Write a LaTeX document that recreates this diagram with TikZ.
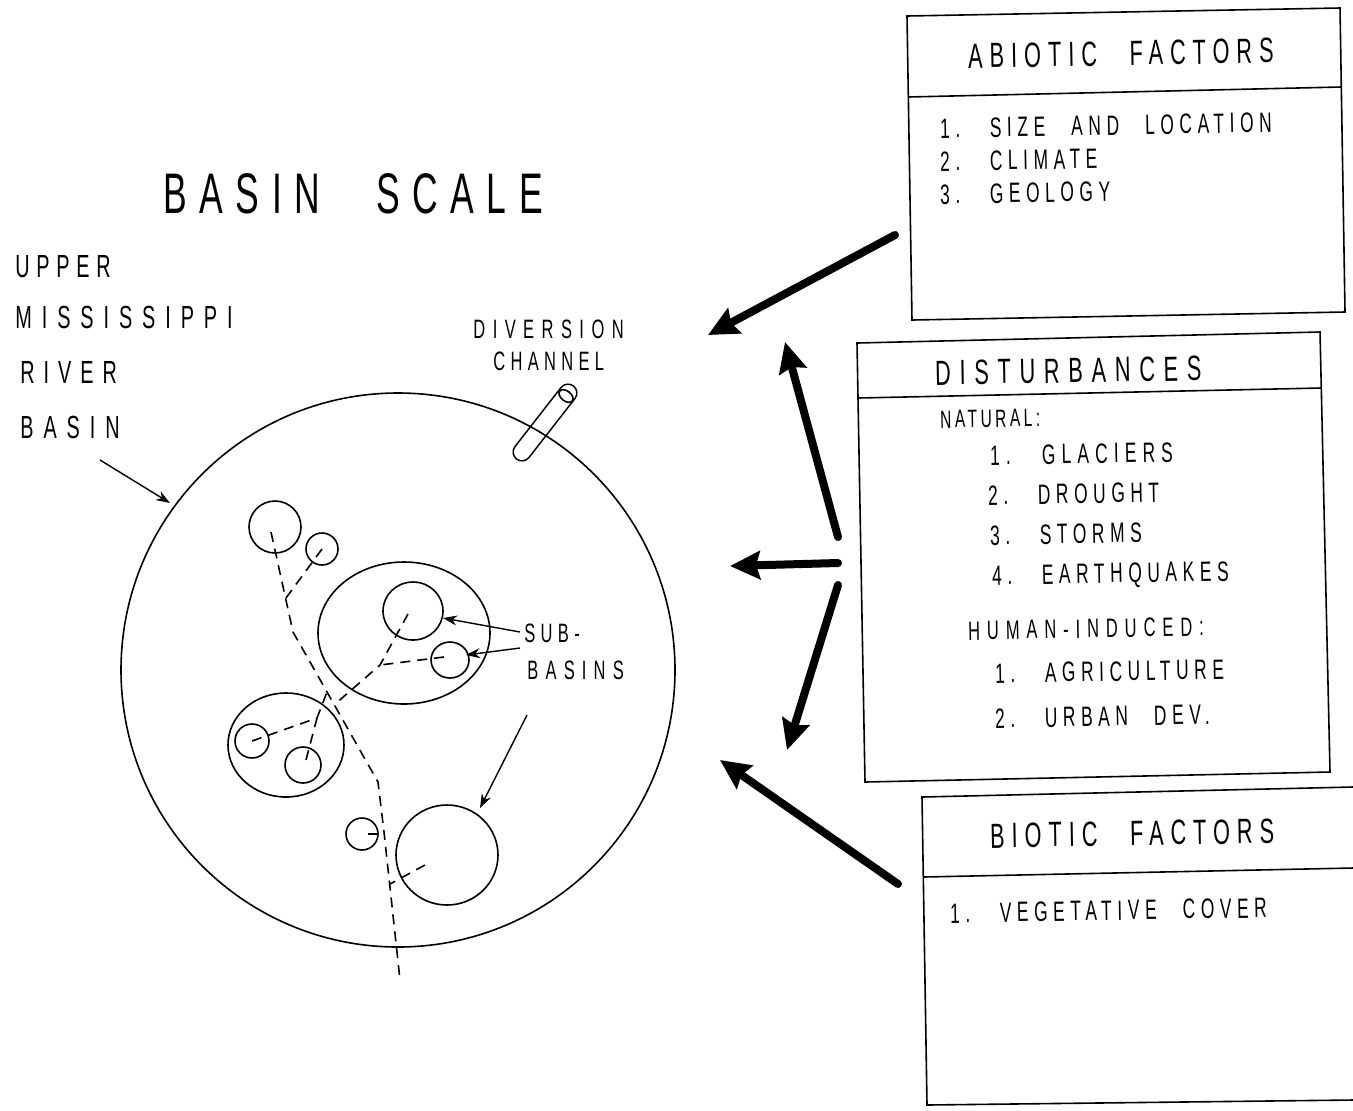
\documentclass[tikz,border=0pt]{standalone}
\usepackage{fontspec}
\setmainfont{Liberation Sans}
\newfontfamily\plotfont[FakeStretch=0.62,LetterSpace=20,WordSpace=2.5]{Liberation Sans}
\newcommand{\ls}[1]{\addfontfeatures{LetterSpace=#1}}
\usetikzlibrary{arrows.meta}
\begin{document}
\begin{tikzpicture}[x=0.5pt,y=-0.5pt,
  thinln/.style={line width=0.8pt},
  boxln/.style={line width=0.8pt},
  dashln/.style={line width=0.8pt,dash pattern=on 5pt off 3.5pt},
  thinarrow/.style={line width=0.7pt,-{Stealth[length=7pt,width=5pt]}},
  bigarrow/.style={line width=4pt,line cap=round,-{Stealth[length=15pt,width=14pt,inset=2pt]}},
  lbl/.style={inner sep=0pt,anchor=base west,font=\plotfont},
  boxtxt/.style={lbl,rotate=1}]
\useasboundingbox (0,0) rectangle (1353,1110);

% ---- titles and labels ----
\node[lbl,font=\plotfont\ls{22}\fontsize{28.6}{30}\selectfont] (title) at (163,213) {BASIN SCALE};
\node[lbl,font=\plotfont\ls{21}\fontsize{16}{18}\selectfont] (upper) at (15,277) {UPPER};
\node[lbl,font=\plotfont\ls{31}\fontsize{16}{18}\selectfont] (miss) at (15,328) {MISSISSIPPI};
\node[lbl,font=\plotfont\ls{28}\fontsize{16}{18}\selectfont] (river) at (20,383) {RIVER};
\node[lbl,font=\plotfont\ls{31}\fontsize{16}{18}\selectfont] (basin) at (20,438) {BASIN};
\node[lbl,font=\plotfont\ls{28}\fontsize{13.3}{15}\selectfont] (div) at (473,338) {DIVERSION};
\node[lbl,font=\plotfont\fontsize{13.3}{15}\selectfont] (chan) at (493,370) {CHANNEL};
\node[lbl,font=\plotfont\fontsize{13.3}{15}\selectfont] (sub) at (524,642) {SUB-};
\node[lbl,font=\plotfont\ls{27}\fontsize{13.3}{15}\selectfont] (basins) at (527,679) {BASINS};

% ---- diversion channel ----
\coordinate (p1) at (522,452);
\coordinate (p2) at (568,393);
\draw[line width=0.8pt,double distance=8pt,line cap=round] (p1) -- (p2);
\coordinate (hole) at (566,396);
\draw[thinln,rotate around={52:(hole)}] (hole) ellipse [x radius=5, y radius=8];

% ---- basin circle ----
\coordinate (basinc) at (398,670);
\draw[thinln] (basinc) circle [radius=277];

% ---- sub-basins ----
\coordinate (cA) at (275,527);
\coordinate (cB) at (322,549);
\coordinate (cC) at (404,633);
\coordinate (cD) at (413,611);
\coordinate (cE) at (450,660);
\coordinate (cF) at (286,745);
\coordinate (cG) at (252,741);
\coordinate (cH) at (303,765);
\coordinate (cI) at (362,834);
\coordinate (cJ) at (447,855);
\draw[thinln] (cA) ellipse [x radius=26, y radius=26];
\draw[thinln] (cB) ellipse [x radius=16, y radius=16];
\draw[thinln] (cC) ellipse [x radius=86, y radius=71];
\draw[thinln] (cD) ellipse [x radius=30, y radius=29];
\draw[thinln] (cE) ellipse [x radius=19, y radius=18];
\draw[thinln] (cF) ellipse [x radius=58, y radius=52];
\draw[thinln] (cG) ellipse [x radius=17, y radius=17];
\draw[thinln] (cH) ellipse [x radius=18, y radius=18];
\draw[thinln] (cI) ellipse [x radius=16, y radius=16];
\draw[thinln] (cJ) ellipse [x radius=51, y radius=50];

% ---- stream network ----
\coordinate (s0) at (271,532);
\coordinate (s1) at (293,632);
\coordinate (s2) at (378,782);
\coordinate (s3) at (384,832);
\coordinate (s4) at (400,980);
\draw[dashln] (s0) -- (s1) -- (s2) -- (s3) -- (s4);
\coordinate (jB) at (286,598);
\draw[dashln] (cB) -- (jB);
\coordinate (jK) at (380,665);
\coordinate (jKm) at (334,705);
\draw[dashln] (408,614) -- (jK) -- (jKm);
\draw[dashln] (444,657) -- (jK);
\coordinate (jL) at (317,718);
\coordinate (jLm) at (327,692);
\draw[dashln] (cG) -- (jL) -- (jLm);
\draw[dashln] (306,760) -- (jL);
\draw[dashln] (368,834) -- (384,834);
\coordinate (jJ) at (390,884);
\draw[dashln] (425,865) -- (jJ);

% ---- thin arrows ----
\coordinate (bA0) at (100,460);
\coordinate (bA1) at (170,503);
\draw[thinarrow] (bA0) -- (bA1);
\coordinate (sbA0) at (520,632);
\coordinate (sbA1) at (443,618);
\coordinate (sbB0) at (520,648);
\coordinate (sbB1) at (466,655);
\coordinate (sbC0) at (527,715);
\coordinate (sbC1) at (480,808);
\draw[thinarrow] (sbA0) -- (sbA1);
\draw[thinarrow] (sbB0) -- (sbB1);
\draw[thinarrow] (sbC0) -- (sbC1);

% ---- boxes ----
\draw[boxln] (907,16) -- (1340,8) -- (1345,312) -- (912,320) -- cycle;
\draw[boxln] (908,97) -- (1341,87);
\node[boxtxt,font=\plotfont\fontsize{17.5}{19}\selectfont] (abt) at (968,68) {ABIOTIC FACTORS};
\node[boxtxt,font=\plotfont\fontsize{14}{16}\selectfont] (ab1) at (940,138) {1. SIZE AND LOCATION};
\node[boxtxt,font=\plotfont\fontsize{14}{16}\selectfont] (ab2) at (940,171) {2. CLIMATE};
\node[boxtxt,font=\plotfont\fontsize{14}{16}\selectfont] (ab3) at (940,204) {3. GEOLOGY};

\draw[boxln] (857,343) -- (1320,332) -- (1330,772) -- (865,782) -- cycle;
\draw[boxln] (858,398) -- (1321,388);
\node[boxtxt,font=\plotfont\ls{25}\fontsize{17.5}{19}\selectfont] (dst) at (935,385) {DISTURBANCES};
\node[boxtxt,font=\plotfont\ls{14}\fontsize{12.5}{14}\selectfont] (nat) at (940,428) {NATURAL:};
\node[boxtxt,font=\plotfont\ls{22}\fontsize{14}{16}\selectfont] (d1) at (990,465) {1. GLACIERS};
\node[boxtxt,font=\plotfont\fontsize{14}{16}\selectfont] (d2) at (988,505) {2. DROUGHT};
\node[boxtxt,font=\plotfont\fontsize{14}{16}\selectfont] (d3) at (990,545) {3. STORMS};
\node[boxtxt,font=\plotfont\fontsize{14}{16}\selectfont] (d4) at (992,585) {4. EARTHQUAKES};
\node[boxtxt,font=\plotfont\ls{26}\fontsize{13.3}{15}\selectfont] (hum) at (968,640) {HUMAN-INDUCED:};
\node[boxtxt,font=\plotfont\fontsize{14}{16}\selectfont] (h1) at (995,683) {1. AGRICULTURE};
\node[boxtxt,font=\plotfont\fontsize{14}{16}\selectfont] (h2) at (995,728) {2. URBAN DEV.};

\draw[boxln] (1353,787) -- (922,797) -- (927,1105) -- (1353,1100);
\draw[boxln] (923,877) -- (1353,868);
\node[boxtxt,font=\plotfont\fontsize{17.5}{19}\selectfont] (bit) at (990,848) {BIOTIC FACTORS};
\node[boxtxt,font=\plotfont\fontsize{14}{16}\selectfont] (b1) at (950,923) {1. VEGETATIVE COVER};

% ---- thick arrows ----
\coordinate (a1s) at (895,235); \coordinate (a1e) at (708,335);
\coordinate (a2s) at (838,537); \coordinate (a2e) at (785,342);
\coordinate (a3s) at (838,563); \coordinate (a3e) at (730,566);
\coordinate (a4s) at (838,585); \coordinate (a4e) at (787,750);
\coordinate (a5s) at (898,884); \coordinate (a5e) at (720,760);
\draw[bigarrow] (a1s) -- (a1e);
\draw[bigarrow] (a2s) -- (a2e);
\draw[bigarrow] (a3s) -- (a3e);
\draw[bigarrow] (a4s) -- (a4e);
\draw[bigarrow] (a5s) -- (a5e);
\end{tikzpicture}
\end{document}
